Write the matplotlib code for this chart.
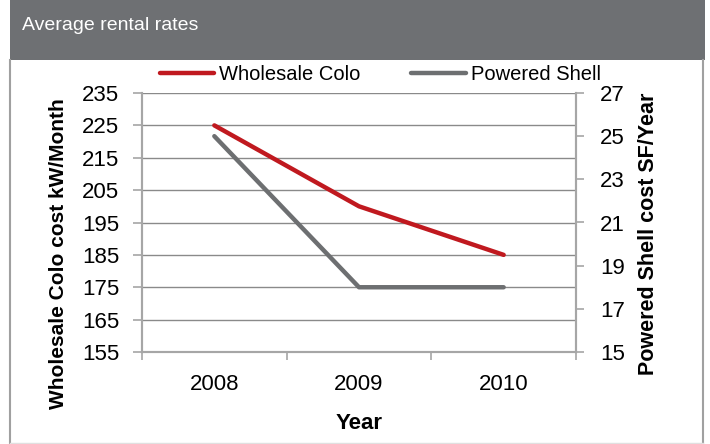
import matplotlib
matplotlib.use("Agg")
import matplotlib.pyplot as plt
from matplotlib.patches import Rectangle
from matplotlib.lines import Line2D
from matplotlib.ticker import FixedLocator, NullFormatter

plt.rcParams['font.family'] = ['Liberation Sans', 'DejaVu Sans']

# average rental rates by year
years = ['2008', '2009', '2010']
wholesale_colo = [225, 200, 185]   # $ per kW / month
powered_shell = [25, 18, 18]       # $ per SF / year

colo_ticks = [155, 165, 175, 185, 195, 205, 215, 225, 235]
shell_ticks = [15, 17, 19, 21, 23, 25, 27]

RED = '#c0191f'
GREY = '#6d6f71'
AXIS = '#a6a6a6'
GRID = '#8a8a8a'

W, H = 710, 444
fig = plt.figure(figsize=(W / 100, H / 100), dpi=100)

# header band and outer frame
fig.patches.append(Rectangle((10 / W, 1 - 60 / H), 695 / W, 60 / H,
                             transform=fig.transFigure, facecolor='#6e7073',
                             edgecolor='none', zorder=0))
fig.add_artist(Line2D([10 / W, 10 / W], [0.002, 1 - 60 / H], transform=fig.transFigure,
                      color='#a0a0a0', lw=1.5))
fig.add_artist(Line2D([703 / W, 703 / W], [0.002, 1 - 60 / H], transform=fig.transFigure,
                      color='#a0a0a0', lw=1.5))
fig.add_artist(Line2D([10 / W, 703 / W], [1.5 / H, 1.5 / H], transform=fig.transFigure,
                      color='#e0e0e0', lw=1))
fig.text(22 / W, 1 - 25 / H, 'Average rental rates', color='white', fontsize=14,
         ha='left', va='center')

ax = fig.add_axes([142 / W, 1 - 352 / H, (576 - 142) / W, (352 - 93) / H])
ax2 = ax.twinx()

x = range(len(years))
l1, = ax.plot(x, wholesale_colo, color=RED, lw=3.2, solid_capstyle='round', zorder=3)
l2, = ax2.plot(x, powered_shell, color=GREY, lw=3.2, solid_capstyle='round', zorder=3)

ax.set_xlim(-0.5, 2.5)
ax.set_ylim(155, 235)
ax2.set_ylim(15, 27)
ax.set_yticks(colo_ticks)
ax2.set_yticks(shell_ticks)

ax.set_xticks(list(x))
ax.set_xticklabels(years)
ax.xaxis.set_minor_locator(FixedLocator([-0.5, 0.5, 1.5, 2.5]))
ax.xaxis.set_minor_formatter(NullFormatter())
ax.tick_params(axis='x', which='major', length=0, labelsize=16, pad=16)
ax.tick_params(axis='x', which='minor', length=5.5, width=1.2, color=AXIS, direction='out')
ax.tick_params(axis='y', length=6.5, width=1.2, color=AXIS, labelsize=16, pad=10)
ax2.tick_params(axis='y', length=5.5, width=1.2, color=AXIS, labelsize=16, pad=12)

ax.grid(axis='y', color=GRID, lw=1)
ax.set_axisbelow(True)
for a in (ax, ax2):
    a.spines['top'].set_visible(False)
    for s in ('left', 'right', 'bottom'):
        a.spines[s].set_color(AXIS)
        a.spines[s].set_linewidth(1.5)

fig.text(359 / W, 1 - 423 / H, 'Year', fontsize=16, fontweight='bold',
         ha='center', va='center')
fig.text(59 / W, 1 - 254 / H, 'Wholesale Colo cost kW/Month', fontsize=15,
         fontweight='bold', rotation=90, ha='center', va='center')
fig.text(648 / W, 1 - 234 / H, 'Powered Shell cost SF/Year', fontsize=15.5,
         fontweight='bold', rotation=90, ha='center', va='center')

fig.legend([l1, l2], ['Wholesale Colo', 'Powered Shell'], loc='center left',
           bbox_to_anchor=(160 / W, 1 - 75 / H), ncol=2, frameon=False,
           fontsize=14.5, handlelength=2.7, handletextpad=0.25, columnspacing=2.5,
           borderpad=0, borderaxespad=0)

fig.savefig('out.png', dpi=100, facecolor='white')
